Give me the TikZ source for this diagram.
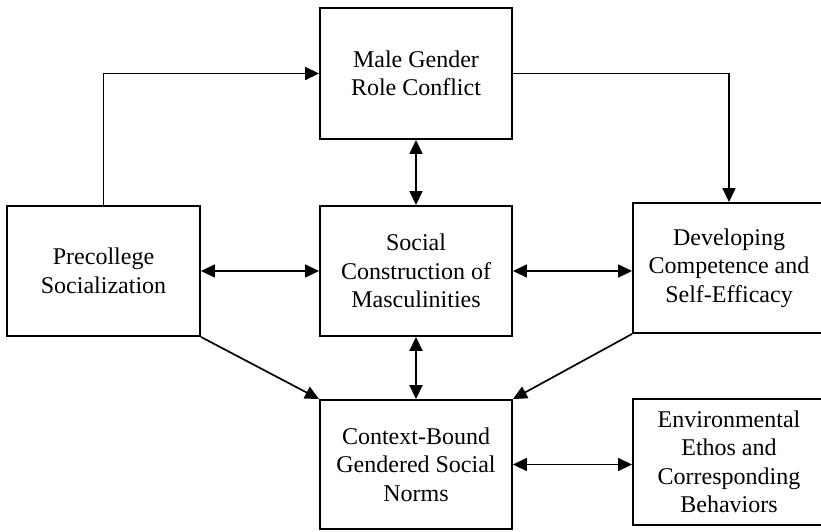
\documentclass[tikz,border=0pt]{standalone}
\usepackage{fontspec}
\setmainfont{Liberation Serif}
\usetikzlibrary{arrows.meta}
\begin{document}
\begin{tikzpicture}[x=1pt,y=-1pt,
  box/.style={draw,line width=1.9pt,rectangle,minimum width=192pt,inner sep=0pt,align=center,
    font=\fontsize{24}{28.5}\selectfont},
  arr/.style={line width=1.7pt,-{Triangle[length=14pt,width=13pt]}},
  darr/.style={line width=1.7pt,{Triangle[length=14pt,width=13pt]}-{Triangle[length=14pt,width=13pt]}}]
\useasboundingbox (0,0) rectangle (821,531);
\clip (0,0) rectangle (821,531);
\node[box,minimum height=131pt] (mgrc) at (416,73.5) {Male Gender\\Role Conflict};
\node[box,minimum width=193pt,minimum height=130pt] (pre) at (103.5,271) {Precollege\\Socialization};
\node[box,minimum height=130pt] (soc) at (416,271) {Social\\Construction of\\Masculinities};
\node[box,minimum height=130pt] (dev) at (729,268) {Developing\\Competence and\\Self-Efficacy};
\node[box,minimum height=129pt] (ctx) at (416,464.5) {Context-Bound\\Gendered Social\\Norms};
\node[box,minimum height=126pt] (env) at (729,462) {Environmental\\Ethos and\\Corresponding\\Behaviors};
\draw[arr] (pre.north) |- (mgrc.west);
\draw[arr] (mgrc.east) -| (dev.north);
\draw[darr] (mgrc.south) -- (soc.north);
\draw[darr] (pre.east) -- (soc.west);
\draw[darr] (soc.east) -- (soc.east -| dev.west);
\draw[arr] (pre.south east) -- (ctx.north west);
\draw[arr] (dev.south west) -- (ctx.north east);
\draw[darr] (soc.south) -- (ctx.north);
\draw[darr] (ctx.east) -- (ctx.east -| env.west);
\end{tikzpicture}
\end{document}
